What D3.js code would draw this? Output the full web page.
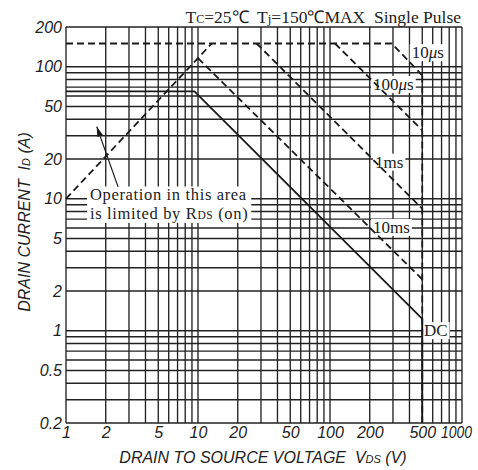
<!DOCTYPE html>
<html><head><meta charset="utf-8">
<script src="https://cdn.jsdelivr.net/npm/d3@7"></script>
<style>
html,body{margin:0;padding:0;background:#fff;}
svg{display:block;}
text{white-space:pre;}
</style></head>
<body><svg id="c" width="478" height="470"></svg>
<script>
// ---- data ----
const xTickValues = [1,2,5,10,20,50,100,200,500,1000];
const yTickValues = [0.2,0.5,1,2,5,10,20,50,100,200];
const xGridValues = [1,2,3,4,5,6,7,8,9,10,20,30,40,50,60,70,80,90,100,200,300,400,500,600,700,800,900,1000];
const yGridValues = [0.2,0.3,0.4,0.5,0.6,0.7,0.8,0.9,1,2,3,4,5,6,7,8,9,10,20,30,40,50,60,70,80,90,100,200];

const rdsV = [1, 12.7];          const rdsI = [10, 150];
const us10V = [1, 294, 500];     const us10I = [150, 150, 86];
const us100V = [109, 500];       const us100I = [150, 33];
const ms1V = [27.8, 500];        const ms1I = [150, 8.4];
const ms10V = [10, 500];         const ms10I = [116, 2.45];
const dcV = [1, 9.4, 500, 500];  const dcI = [65, 65, 1.23, 0.2];
const vdssV = [500, 500];        const vdssI = [86, 0.2];

const labelNames = ["10|μ|s", "100|μ|s", "1ms", "10ms", "DC"];
const labelV = [416, 212, 219, 212, 515];
const labelI = [116, 66.7, 17.2, 5.5, 0.91];

const noteLines = ["Operation in this area", "is limited by R|DS| (on)"];
const noteAnchor = [1.52, 9.7];
const arrowTail = [2.48, 12.3];
const arrowTip = [1.71, 35.2];

// ---- chart ----
const svg = d3.select("#c");
const x = d3.scaleLog().domain([1,1000]).range([66,462]);
const y = d3.scaleLog().domain([0.2,200]).range([423,27]);
const ink = "#1a1a1a";
const serif = "'Liberation Serif','Times New Roman',serif";
const sans = "'Liberation Sans',Arial,sans-serif";

const gGrid = svg.append("g");
const gBg = svg.append("g");
const gData = svg.append("g");
const gText = svg.append("g");

gGrid.selectAll("line.vx").data(xGridValues).join("line").attr("class","vx")
  .attr("x1", d=>x(d)).attr("x2", d=>x(d)).attr("y1", y(0.2)).attr("y2", y(200))
  .attr("stroke", "#222").attr("stroke-width", 1.35);
gGrid.selectAll("line.hy").data(yGridValues).join("line").attr("class","hy")
  .attr("y1", d=>y(d)).attr("y2", d=>y(d)).attr("x1", x(1)).attr("x2", x(1000))
  .attr("stroke", "#222").attr("stroke-width", 1.35);

// axes (labels only)
const xAxis = d3.axisBottom(x).tickValues(xTickValues).tickSize(0).tickPadding(4).tickFormat(d=>String(d));
const yAxis = d3.axisLeft(y).tickValues(yTickValues).tickSize(0).tickPadding(4).tickFormat(d=>String(d));
const gx = svg.append("g").attr("transform", `translate(0,${y(0.2)})`).call(xAxis);
const gy = svg.append("g").attr("transform", `translate(${x(1)},0)`).call(yAxis);
[gx, gy].forEach(g => {
  g.select(".domain").remove();
  g.selectAll("text").attr("font-family", sans).attr("font-style","italic")
    .attr("font-size", 16).attr("fill", "#222");
});
gx.selectAll(".tick").filter(d => d === 1000).select("text")
  .attr("x", -6).attr("textLength", 31).attr("lengthAdjust", "spacingAndGlyphs");

// data lines
const line = d3.line().x(d=>x(d[0])).y(d=>y(d[1]));
const zip = (a,b) => a.map((v,i)=>[v,b[i]]);
const dashed = [zip(rdsV,rdsI), zip(us10V,us10I), zip(us100V,us100I), zip(ms1V,ms1I), zip(ms10V,ms10I), zip(vdssV,vdssI)];
gData.selectAll("path.d").data(dashed).join("path").attr("class","d")
  .attr("d", line).attr("fill","none").attr("stroke", ink).attr("stroke-width", 1.8)
  .attr("stroke-dasharray", "7,4");
gData.append("path").datum(zip(dcV,dcI)).attr("d", line).attr("fill","none")
  .attr("stroke", ink).attr("stroke-width", 1.8);

// pulse labels
labelNames.forEach((name, i) => {
  const t = gText.append("text").attr("x", x(labelV[i])).attr("y", y(labelI[i]))
    .attr("font-family", serif).attr("font-size", 17).attr("fill", "#222");
  name.split("|").forEach((part, k) => {
    const ts = t.append("tspan").text(part);
    if (part === "μ") ts.attr("font-style", "italic");
  });
  const b = t.node().getBBox();
  gBg.append("rect").attr("x", b.x-2).attr("y", b.y+1).attr("width", b.width+4).attr("height", b.height-2)
    .attr("fill", "#fff");
});

// note (one text element, two lines)
const nx = x(noteAnchor[0]);
const note = gText.append("text").attr("x", nx).attr("y", y(noteAnchor[1]))
  .attr("font-family", serif).attr("font-size", 16.5).attr("letter-spacing", 0.65).attr("fill", "#222");
noteLines.forEach((ln, i) => {
  ln.split("|").forEach((part, k) => {
    const ts = note.append("tspan").text(part);
    if (k === 0 && i > 0) ts.attr("x", nx).attr("dy", 18.4);
    if (part === "DS") ts.attr("font-size", 11.5);
  });
});
{
  const b = note.node().getBBox();
  gBg.append("rect").attr("x", b.x-3).attr("y", b.y+1).attr("width", b.width+6).attr("height", b.height-1)
    .attr("fill", "#fff");
}

// arrow
svg.append("defs").append("marker").attr("id","ah").attr("markerUnits","userSpaceOnUse")
  .attr("viewBox","0 0 10 6").attr("refX",10).attr("refY",3).attr("markerWidth",10).attr("markerHeight",6)
  .attr("orient","auto").append("path").attr("d","M0,0 L10,3 L0,6 Z").attr("fill", ink);
gData.append("line").attr("x1", x(arrowTail[0])).attr("y1", y(arrowTail[1]))
  .attr("x2", x(arrowTip[0])).attr("y2", y(arrowTip[1]))
  .attr("stroke", ink).attr("stroke-width", 1.2).attr("marker-end","url(#ah)");

// title
const title = svg.append("text").attr("x", 461).attr("y", 23).attr("text-anchor","end")
  .attr("font-family", serif).attr("font-size", 17.5).attr("fill", "#222");
title.append("tspan").text("T");
title.append("tspan").attr("font-size", 12).text("C");
title.append("tspan").text("=25℃  T");
title.append("tspan").attr("font-size", 13).text("j");
title.append("tspan").text("=150℃MAX  Single Pulse");

// axis titles
const xt = svg.append("text").attr("x", 263).attr("y", 463).attr("text-anchor","middle")
  .attr("font-family", sans).attr("font-style","italic").attr("font-size", 16).attr("fill","#222");
xt.append("tspan").text("DRAIN TO SOURCE VOLTAGE  V");
xt.append("tspan").attr("font-size", 11).text("DS");
xt.append("tspan").text(" (V)");

const yt = svg.append("text").attr("transform", "translate(30,222) rotate(-90)").attr("text-anchor","middle")
  .attr("font-family", sans).attr("font-style","italic").attr("font-size", 16).attr("fill","#222");
yt.append("tspan").text("DRAIN CURRENT  I");
yt.append("tspan").attr("font-size", 11).text("D");
yt.append("tspan").text(" (A)");
</script>
</body></html>
